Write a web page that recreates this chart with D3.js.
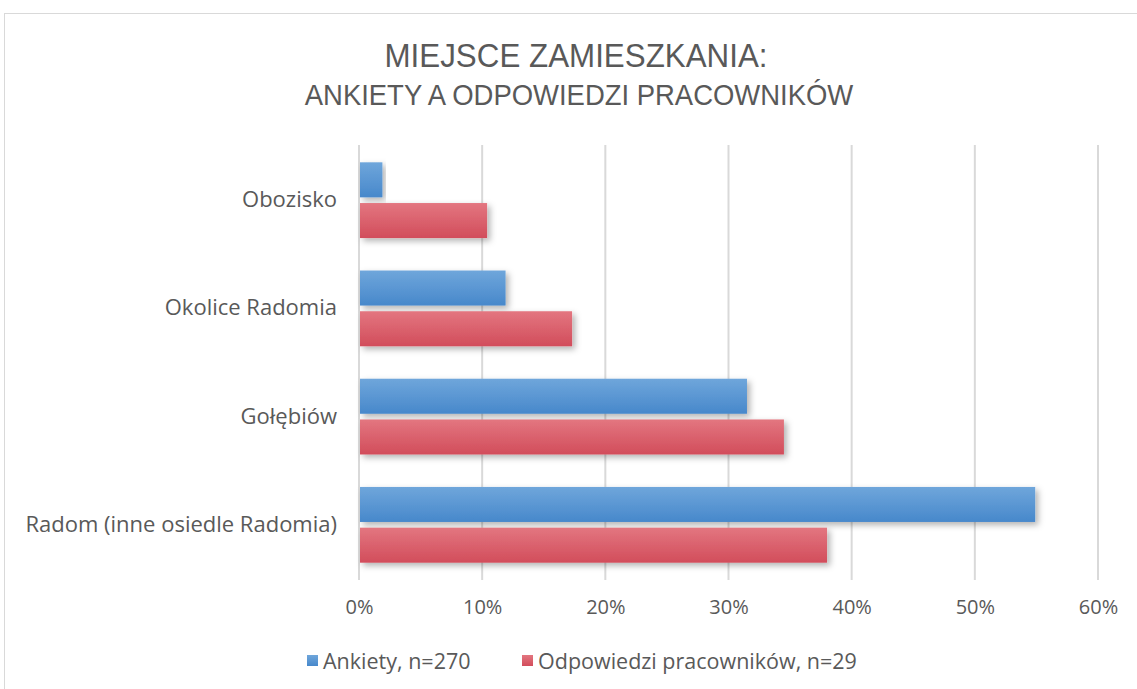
<!DOCTYPE html>
<html>
<head>
<meta charset="utf-8">
<script src="https://cdn.jsdelivr.net/npm/d3@7"></script>
<style>
  body { margin: 0; background: #fff; }
  text { font-family: "Open Sans", sans-serif; fill: #595959; }
</style>
</head>
<body>
<div id="chart-area"></div>
<script>
// categories, top to bottom
var categories = ["Obozisko", "Okolice Radomia", "Gołębiów", "Radom (inne osiedle Radomia)"];
var seriesNames = ["Ankiety, n=270", "Odpowiedzi pracowników, n=29"];
var ankiety = [0.019, 0.119, 0.315, 0.549];
var pracownicy = [0.104, 0.173, 0.345, 0.380];
var ticks = [0, 0.1, 0.2, 0.3, 0.4, 0.5, 0.6];

var W = 1137, H = 689;
var margin = { left: 359, right: 39, top: 145, bottom: 109 };
var width = W - margin.left - margin.right,
    height = H - margin.top - margin.bottom;

var svg = d3.select("#chart-area")
  .append("svg")
    .attr("width", W)
    .attr("height", H);

var defs = svg.append("defs");
var grads = [["gBlue", "#6FA6DB", "#4788CB"], ["gRed", "#E37680", "#D24D5B"]];
grads.forEach(function(gd) {
  var lg = defs.append("linearGradient").attr("id", gd[0])
    .attr("x1", 0).attr("y1", 0).attr("x2", 0).attr("y2", 1);
  lg.append("stop").attr("offset", "0%").attr("stop-color", gd[1]);
  lg.append("stop").attr("offset", "100%").attr("stop-color", gd[2]);
});
var f = defs.append("filter").attr("id", "shadow")
  .attr("x", "-5%").attr("y", "-20%").attr("width", "120%").attr("height", "160%");
f.append("feDropShadow").attr("dx", 3).attr("dy", 3).attr("stdDeviation", 3)
  .attr("flood-color", "#000").attr("flood-opacity", 0.3);

// outer border
svg.append("rect")
  .attr("x", 4.5).attr("y", 13.5)
  .attr("width", W + 10).attr("height", H + 10)
  .attr("fill", "none").attr("stroke", "#D9D9D9").attr("stroke-width", 1);

// title (condensed look via horizontal scale)
svg.append("text")
  .attr("transform", "translate(576,67) scale(0.95,1)")
  .attr("text-anchor", "middle")
  .attr("font-size", "33px")
  .style("font-family", "'Liberation Sans', sans-serif")
  .text("MIEJSCE ZAMIESZKANIA:");
svg.append("text")
  .attr("transform", "translate(579,105) scale(0.915,1)")
  .attr("text-anchor", "middle")
  .attr("font-size", "30px")
  .style("font-family", "'Liberation Sans', sans-serif")
  .text("ANKIETY A ODPOWIEDZI PRACOWNIKÓW");

var g = svg.append("g")
  .attr("transform", "translate(" + margin.left + "," + margin.top + ")");

var x = d3.scaleLinear().domain([0, 0.6]).range([0, width]);
var y = d3.scaleBand().domain(categories).range([0, height]).paddingInner(0.30).paddingOuter(0.16);
var ySub = d3.scaleBand().domain([0, 1]).range([0, y.bandwidth()]).paddingInner(0.14);

// gridlines
g.selectAll(".grid").data(ticks).enter().append("line")
  .attr("x1", function(d) { return x(d); })
  .attr("x2", function(d) { return x(d); })
  .attr("y1", 0).attr("y2", height)
  .attr("stroke", "#D9D9D9").attr("stroke-width", 2);

// x axis
var xAxis = d3.axisBottom(x).tickValues(ticks).tickFormat(d3.format(".0%")).tickSize(0).tickPadding(20);
var xg = g.append("g").attr("transform", "translate(0," + height + ")").call(xAxis);
xg.select(".domain").remove();
xg.selectAll("text").attr("font-size", "20px").style("font-family", "'Open Sans', sans-serif").attr("fill", "#595959");

// y axis labels
var yAxis = d3.axisLeft(y).tickSize(0).tickPadding(22);
var yg = g.append("g").call(yAxis);
yg.select(".domain").remove();
yg.selectAll("text").attr("font-size", "22px").style("font-family", "'Open Sans', sans-serif").attr("fill", "#595959");

// bars
var series = [ankiety, pracownicy];
var fills = ["url(#gBlue)", "url(#gRed)"];
series.forEach(function(vals, si) {
  g.selectAll(".bar" + si).data(vals).enter().append("rect")
    .attr("x", x(0) + 1)
    .attr("y", function(d, i) { return y(categories[i]) + ySub(si); })
    .attr("width", function(d) { return x(d) - x(0) - 1; })
    .attr("height", ySub.bandwidth())
    .attr("fill", fills[si])
    .attr("filter", "url(#shadow)");
});

// legend
var legendItems = [{ name: seriesNames[0], fill: fills[0], x: 307 }, { name: seriesNames[1], fill: fills[1], x: 522 }];
var legend = svg.append("g").attr("transform", "translate(0,661)");
legendItems.forEach(function(d) {
  legend.append("rect").attr("x", d.x).attr("y", -6).attr("width", 11).attr("height", 11).attr("fill", d.fill);
  legend.append("text").attr("x", d.x + 16).attr("y", 0).attr("dy", "0.35em")
    .attr("font-size", "21.5px").text(d.name);
});
</script>
</body>
</html>
